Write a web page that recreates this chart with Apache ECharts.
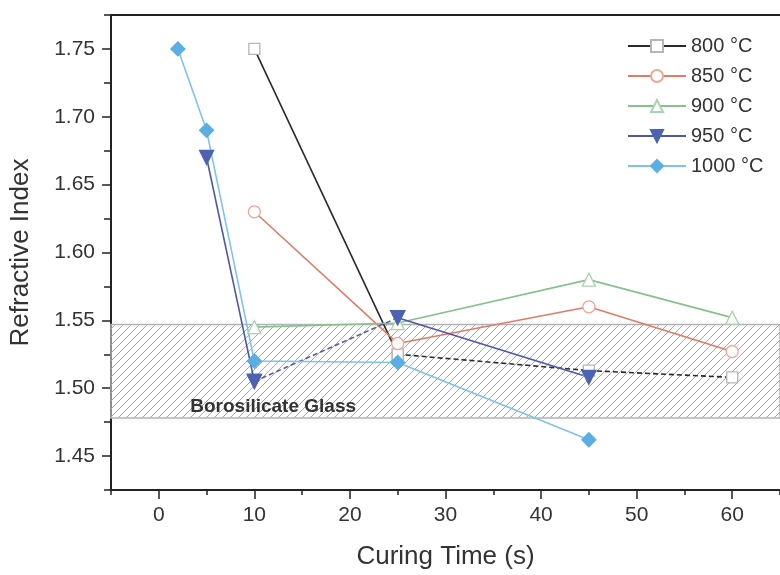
<!DOCTYPE html>
<html>
<head>
<meta charset="utf-8">
<script src="https://cdn.jsdelivr.net/npm/echarts@6/dist/echarts.min.js"></script>
<style>
  html, body { margin: 0; padding: 0; background: #ffffff; }
  #chart { width: 780px; height: 575px; }
</style>
</head>
<body>
<div id="chart"></div>
<script>
// Refractive index vs curing time, one series per curing temperature
const t800 = [10, 25, 45, 60];
const n800 = [1.750, 1.525, 1.513, 1.508];
const t850 = [10, 25, 45, 60];
const n850 = [1.630, 1.533, 1.560, 1.527];
const t900 = [10, 25, 45, 60];
const n900 = [1.545, 1.548, 1.580, 1.552];
const t950 = [5, 10, 25, 45];
const n950 = [1.670, 1.505, 1.552, 1.508];
const t1000 = [2, 5, 10, 25, 45];
const n1000 = [1.750, 1.690, 1.520, 1.519, 1.462];

const seriesNames = ['800 °C', '850 °C', '900 °C', '950 °C', '1000 °C'];

// Borosilicate glass refractive index range
const glassBand = [1.478, 1.547];
const glassLabel = 'Borosilicate Glass';

// Axis ticks
const xLabels = [0, 10, 20, 30, 40, 50, 60];
const xMinor = [-5, 5, 15, 25, 35, 45, 55, 65];
const yLabels = [1.45, 1.50, 1.55, 1.60, 1.65, 1.70, 1.75];
const yMinor = [1.425, 1.475, 1.525, 1.575, 1.625, 1.675, 1.725, 1.775];
const xRange = [-5, 65];
const yRange = [1.425, 1.775];

function pairs(xs, ys, from, to) {
  const out = [];
  for (let i = from; i <= to; i++) out.push([xs[i], ys[i]]);
  return out;
}

// diagonal hatch tile for the glass band
function hatch() {
  const c = document.createElement('canvas');
  const s = 8;
  c.width = s; c.height = s;
  const g = c.getContext('2d');
  g.strokeStyle = '#a8a8a8';
  g.lineWidth = 1;
  g.beginPath();
  g.moveTo(-1, s + 1); g.lineTo(s + 1, -1);
  g.moveTo(-1, 1); g.lineTo(1, -1);
  g.moveTo(s - 1, s + 1); g.lineTo(s + 1, s - 1);
  g.stroke();
  return c;
}

const font = 'Arial, "Liberation Sans", sans-serif';

const style = {
  800: { line: '#2a2a2a', symbol: 'rect', size: 11, fill: '#ffffff', border: '#b5b5b5' },
  850: { line: '#de7c67', symbol: 'circle', size: 12, fill: '#ffffff', border: '#eea696' },
  900: { line: '#85c38b', symbol: 'triangle', size: 13, fill: '#ffffff', border: '#a8d5ad' },
  950: { line: '#4f58a8', symbol: 'triangle', size: 14, fill: '#4e62b4', border: '#4e62b4', rotate: 180 },
  1000: { line: '#7ec3ea', symbol: 'diamond', size: 14, fill: '#5aaee3', border: '#5aaee3' }
};

function seg(name, key, data, dashed, extra) {
  const st = style[key];
  return Object.assign({
    name: name,
    type: 'line',
    xAxisIndex: 0,
    yAxisIndex: 0,
    data: data,
    symbol: st.symbol,
    symbolSize: st.size,
    symbolRotate: st.rotate || 0,
    showAllSymbol: true,
    lineStyle: { color: st.line, width: 1.6, type: dashed ? [5, 3] : 'solid' },
    itemStyle: { color: st.fill, borderColor: st.border, borderWidth: 1.3 },
    emphasis: { disabled: true },
    animation: false,
    z: 3
  }, extra || {});
}

const series = [
  seg(seriesNames[0], 800, pairs(t800, n800, 0, 1), false, {
    markArea: {
      silent: true,
      z: 1,
      itemStyle: { color: { image: hatch(), repeat: 'repeat' }, borderColor: '#b3b3b3', borderWidth: 1.5 },
      label: {
        show: true,
        position: [80, 74],
        fontFamily: font,
        fontSize: 19,
        fontWeight: 'bold',
        color: '#333333'
      },
      data: [[{ name: glassLabel, xAxis: xRange[0], yAxis: glassBand[0] }, { xAxis: xRange[1], yAxis: glassBand[1] }]]
    }
  }),
  seg(seriesNames[0], 800, pairs(t800, n800, 1, 3), true),
  seg(seriesNames[1], 850, pairs(t850, n850, 0, 3), false),
  seg(seriesNames[2], 900, pairs(t900, n900, 0, 3), false),
  seg(seriesNames[3], 950, pairs(t950, n950, 0, 1), false),
  seg(seriesNames[3], 950, pairs(t950, n950, 1, 2), true),
  seg(seriesNames[3], 950, pairs(t950, n950, 2, 3), false),
  seg(seriesNames[4], 1000, pairs(t1000, n1000, 0, 4), false)
];

const axisColor = '#222222';

const option = {
  backgroundColor: '#ffffff',
  animation: false,
  grid: { left: 108.5, right: -2, top: 15, bottom: 82.5, containLabel: false },
  legend: {
    data: seriesNames,
    orient: 'vertical',
    left: 627,
    top: 36,
    padding: 0,
    itemWidth: 58,
    itemHeight: 15,
    itemGap: 10,
    itemTextGap: 5,
    selectedMode: false,
    textStyle: { fontFamily: font, fontSize: 20, color: '#333333' }
  },
  xAxis: [
    {
      type: 'value',
      position: 'bottom',
      min: xRange[0],
      max: xRange[1],
      name: 'Curing Time (s)',
      nameLocation: 'middle',
      nameGap: 54,
      nameTextStyle: { fontFamily: font, fontSize: 26, color: '#333333' },
      axisLine: { show: true, onZero: false, lineStyle: { color: axisColor, width: 2 } },
      axisTick: { show: true, inside: false, length: 9, customValues: xLabels, lineStyle: { color: axisColor, width: 1.5 } },
      axisLabel: { show: true, margin: 15, customValues: xLabels, fontFamily: font, fontSize: 21, color: '#333333' },
      splitLine: { show: false }
    },
    {
      type: 'value',
      position: 'top',
      min: xRange[0],
      max: xRange[1],
      axisLine: { show: true, onZero: false, lineStyle: { color: axisColor, width: 2 } },
      axisTick: { show: false },
      axisLabel: { show: false },
      splitLine: { show: false }
    },
    {
      type: 'value',
      position: 'bottom',
      min: xRange[0],
      max: xRange[1],
      axisLine: { show: false, onZero: false },
      axisTick: { show: true, inside: false, length: 5, customValues: xMinor, lineStyle: { color: axisColor, width: 1.5 } },
      axisLabel: { show: false },
      splitLine: { show: false }
    }
  ],
  yAxis: [
    {
      type: 'value',
      position: 'left',
      min: yRange[0],
      max: yRange[1],
      name: 'Refractive Index',
      nameLocation: 'middle',
      nameGap: 77,
      nameRotate: 90,
      nameTextStyle: { fontFamily: font, fontSize: 26, color: '#333333' },
      axisLine: { show: true, onZero: false, lineStyle: { color: axisColor, width: 2 } },
      axisTick: { show: true, inside: false, length: 9, customValues: yLabels, lineStyle: { color: axisColor, width: 1.5 } },
      axisLabel: {
        show: true, margin: 16, customValues: yLabels,
        fontFamily: font, fontSize: 21, color: '#333333',
        formatter: v => v.toFixed(2)
      },
      splitLine: { show: false }
    },
    {
      type: 'value',
      position: 'left',
      min: yRange[0],
      max: yRange[1],
      axisLine: { show: false, onZero: false },
      axisTick: { show: true, inside: false, length: 7, customValues: yMinor, lineStyle: { color: axisColor, width: 1.5 } },
      axisLabel: { show: false },
      splitLine: { show: false }
    }
  ],
  series: series
};

const chart = echarts.init(document.getElementById('chart'), null, { renderer: 'canvas' });
chart.setOption(option);
</script>
</body>
</html>
